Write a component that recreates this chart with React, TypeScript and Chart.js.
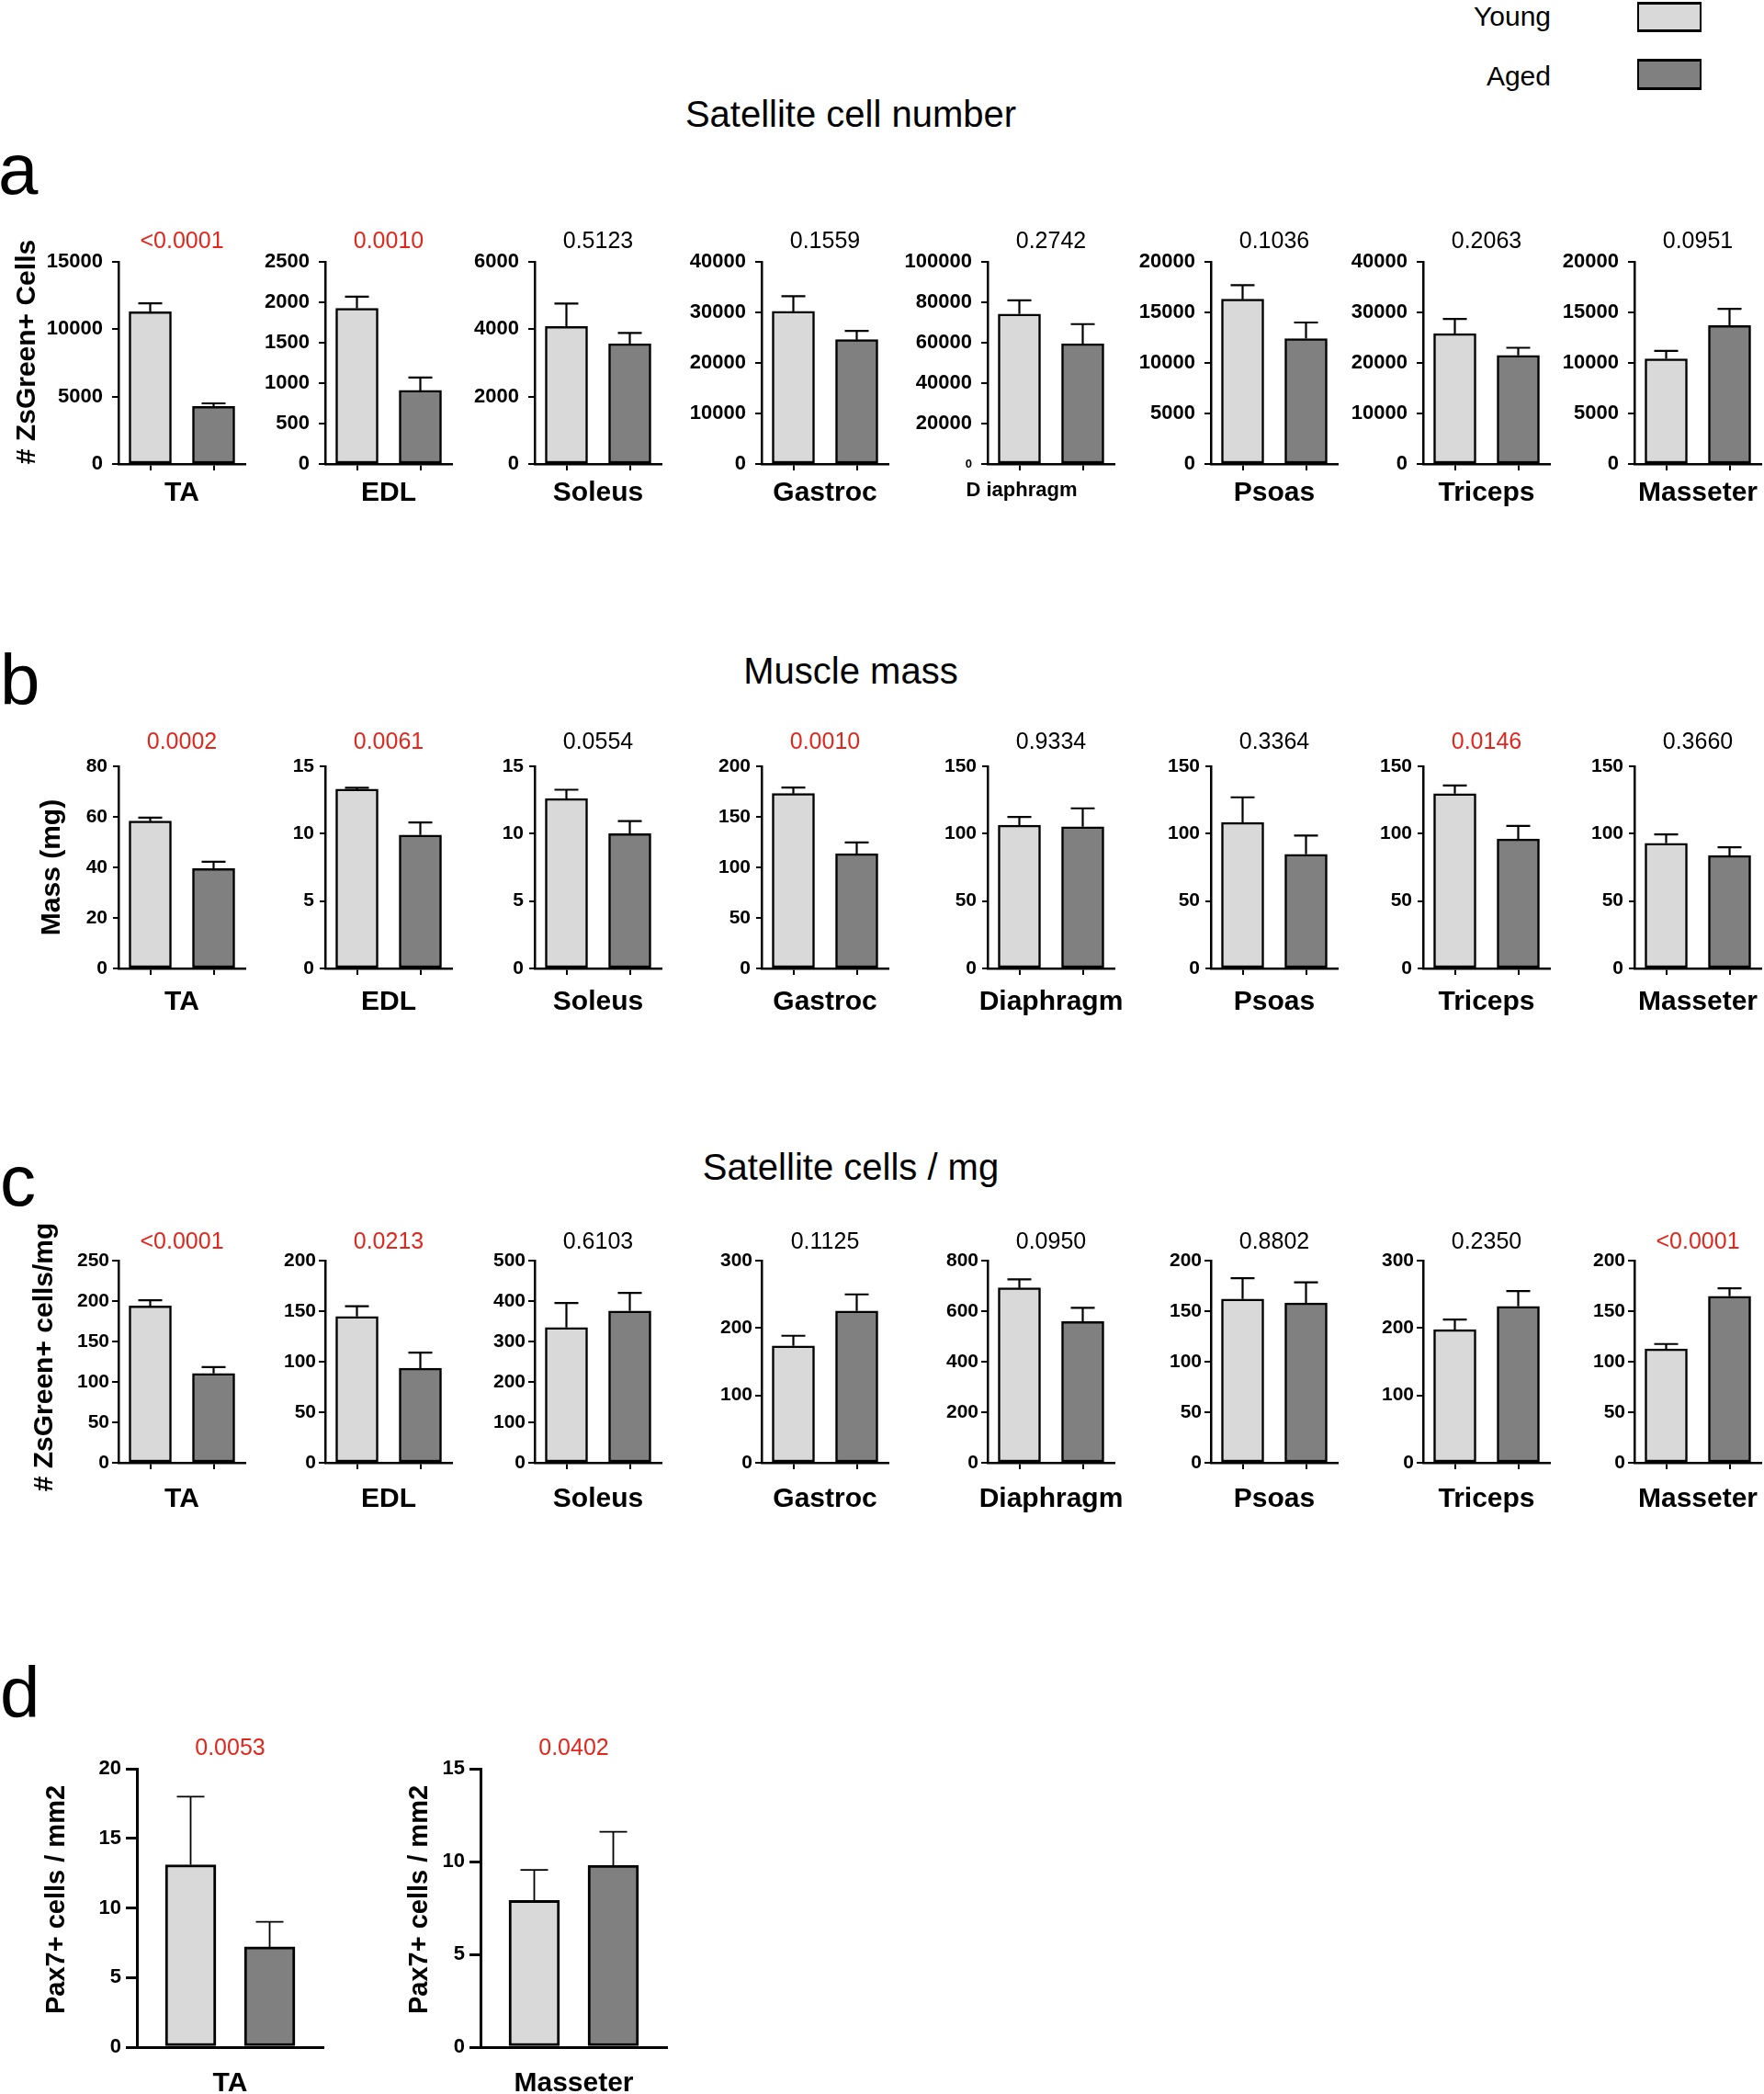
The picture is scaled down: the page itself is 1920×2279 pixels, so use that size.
import React, { useEffect, useRef } from 'react';
import { Chart, registerables } from 'chart.js';

Chart.register(...registerables);

// ---------------- DATA ----------------
const muscles = ['TA', 'EDL', 'Soleus', 'Gastroc', 'Diaphragm', 'Psoas', 'Triceps', 'Masseter'];
const muscleLabelsA = ['TA', 'EDL', 'Soleus', 'Gastroc', 'D iaphragm', 'Psoas', 'Triceps', 'Masseter'];
const groupLabels = ['Young', 'Aged'];

// a. Satellite cell number (# ZsGreen+ cells)
const cellYoung = [11300, 1925, 4080, 30200, 74200, 16300, 25800, 10400];
const cellYoungSem = [620, 145, 680, 3000, 6800, 1400, 2900, 800];
const cellAged = [4270, 910, 3570, 24600, 59500, 12400, 21500, 13700];
const cellAgedSem = [230, 160, 320, 1750, 9700, 1600, 1500, 1650];
const cellAxisMax = [15000, 2500, 6000, 40000, 100000, 20000, 40000, 20000];
const cellAxisStep = [5000, 500, 2000, 10000, 20000, 5000, 10000, 5000];
const cellP = ['<0.0001', '0.0010', '0.5123', '0.1559', '0.2742', '0.1036', '0.2063', '0.0951'];

// b. Muscle mass (mg)
const massYoung = [58.3, 13.3, 12.6, 173, 106.3, 108.3, 129.7, 92.9];
const massYoungSem = [1.4, 0.11, 0.66, 6, 6.1, 18.7, 6.1, 6.6];
const massAged = [39.5, 9.9, 10.0, 113.5, 105.2, 84.7, 96, 83.8];
const massAgedSem = [2.7, 0.93, 0.93, 11.2, 13.6, 13.9, 9.8, 6.1];
const massAxisMax = [80, 15, 15, 200, 150, 150, 150, 150];
const massAxisStep = [20, 5, 5, 50, 50, 50, 50, 50];
const massP = ['0.0002', '0.0061', '0.0554', '0.0010', '0.9334', '0.3364', '0.0146', '0.3660'];

// c. Satellite cells / mg
const perMgYoung = [193.9, 144.8, 334.6, 173.4, 692, 162, 197.6, 112.6];
const perMgYoungSem = [7.1, 10, 60.7, 15.1, 34, 20.7, 15, 4.9];
const perMgAged = [110.4, 93.5, 375.6, 225.3, 558.4, 158.1, 232.2, 164.8];
const perMgAgedSem = [8, 15.5, 44.7, 24.6, 54.6, 20.4, 22.7, 7.9];
const perMgAxisMax = [250, 200, 500, 300, 800, 200, 300, 200];
const perMgAxisStep = [50, 50, 100, 100, 200, 50, 100, 50];
const perMgP = ['<0.0001', '0.0213', '0.6103', '0.1125', '0.0950', '0.8802', '0.2350', '<0.0001'];

// d. Pax7+ cells / mm2
const pax7Muscles = ['TA', 'Masseter'];
const pax7Young = [13.1, 7.9];
const pax7YoungSem = [4.9, 1.65];
const pax7Aged = [7.2, 9.8];
const pax7AgedSem = [1.8, 1.8];
const pax7AxisMax = [20, 15];
const pax7AxisStep = [5, 5];
const pax7P = ['0.0053', '0.0402'];

// ---------------- STYLE / LAYOUT ----------------
const FAM = "'Liberation Sans', Arial, Helvetica, sans-serif";
const YOUNG_COLOR = '#d9d9d9';
const AGED_COLOR = '#808080';
const RED = '#e3261b';

const AXIS_X = [129, 354, 582, 829, 1075, 1318, 1549, 1779];
const PLOT_W = 138;
const PLOT_H = 220;
const D_AXIS_X = [149, 523];
const D_TOP = 1925;
const D_PLOT_W = 203;
const D_PLOT_H = 303;

const isSignificant = (p: string) => p.startsWith('<') || parseFloat(p) < 0.05;

// ---------------- PLUGINS ----------------
const errorBarPlugin = {
  id: 'errorBars',
  afterDatasetsDraw(chart: any, _args: any, opts: any) {
    const errs = opts.errors;
    if (!errs) return;
    const meta = chart.getDatasetMeta(0);
    const yScale = chart.scales.y;
    const ctx = chart.ctx;
    ctx.save();
    ctx.strokeStyle = '#000';
    ctx.lineWidth = opts.lineWidth;
    ctx.lineCap = 'butt';
    meta.data.forEach((bar: any, i: number) => {
      const raw = chart.data.datasets[0].data[i];
      const v = typeof raw === 'number' ? raw : raw.y;
      const top = yScale.getPixelForValue(v + errs[i]);
      ctx.beginPath();
      ctx.moveTo(bar.x, bar.y);
      ctx.lineTo(bar.x, top);
      ctx.moveTo(bar.x - opts.capWidth / 2, top);
      ctx.lineTo(bar.x + opts.capWidth / 2, top);
      ctx.stroke();
    });
    ctx.restore();
  },
};

const subTextPlugin = {
  id: 'subText',
  afterDraw(chart: any, _args: any, o: any) {
    const { ctx, chartArea: ca } = chart;
    const cx = (ca.left + ca.right) / 2;
    ctx.save();
    ctx.textAlign = 'center';
    ctx.textBaseline = 'middle';
    if (o.pText) {
      ctx.font = `${o.pSize}px ${FAM}`;
      ctx.fillStyle = o.pColor;
      ctx.fillText(o.pText, cx, ca.top - o.pOff);
    }
    if (o.xText) {
      ctx.font = `bold ${o.xSize}px ${FAM}`;
      ctx.fillStyle = '#000';
      ctx.fillText(o.xText, cx + (o.xShift || 0), ca.bottom + o.xOff);
    }
    if (o.yText) {
      ctx.translate(ca.left - o.yOff, (ca.top + ca.bottom) / 2 + o.yShift);
      ctx.rotate(-Math.PI / 2);
      ctx.font = `bold ${o.ySize}px ${FAM}`;
      ctx.fillStyle = '#000';
      ctx.fillText(o.yText, 0, 0);
    }
    ctx.restore();
  },
};

// ---------------- CONFIG BUILDERS ----------------
type Spec = { left: number; top: number; width: number; height: number; config: any };

const barPanels = [
  {
    key: 'a', top: 285, labels: muscleLabelsA,
    young: cellYoung, youngSem: cellYoungSem, aged: cellAged, agedSem: cellAgedSem,
    max: cellAxisMax, step: cellAxisStep, p: cellP,
    yTitle: '# ZsGreen+ Cells', yTitleX: 30, yShift: -12, pOff: 22, xOff: 32,
    tickSize: 22, tickPad: 10, tickLen: 7,
  },
  {
    key: 'b', top: 834, labels: muscles,
    young: massYoung, youngSem: massYoungSem, aged: massAged, agedSem: massAgedSem,
    max: massAxisMax, step: massAxisStep, p: massP,
    yTitle: 'Mass (mg)', yTitleX: 57, yShift: 0, pOff: 26, xOff: 37,
    tickSize: 21, tickPad: 6, tickLen: 6,
  },
  {
    key: 'c', top: 1372, labels: muscles,
    young: perMgYoung, youngSem: perMgYoungSem, aged: perMgAged, agedSem: perMgAgedSem,
    max: perMgAxisMax, step: perMgAxisStep, p: perMgP,
    yTitle: '# ZsGreen+ cells/mg', yTitleX: 49, yShift: -5, pOff: 20, xOff: 40,
    tickSize: 21, tickPad: 3, tickLen: 7,
  },
];

function buildBarSpecs(): Spec[] {
  const specs: Spec[] = [];
  const T = 50, B = 62, R = 35;
  barPanels.forEach((pn) => {
    pn.labels.forEach((label, i) => {
      const L = i === 0 ? 125 : 100;
      const width = L + PLOT_W + R;
      const height = T + PLOT_H + B;
      const special = pn.key === 'a' && i === 4;
      const tickFont = special
        ? (c: any) => (c.tick && c.tick.value === 0
            ? { family: FAM, size: 13, weight: 'bold' }
            : { family: FAM, size: pn.tickSize, weight: 'bold' })
        : { family: FAM, size: pn.tickSize, weight: 'bold' };
      const config = {
        type: 'bar',
        data: {
          labels: groupLabels,
          datasets: [{
            data: [pn.young[i], pn.aged[i]],
            backgroundColor: [YOUNG_COLOR, AGED_COLOR],
            borderColor: '#000',
            borderWidth: 2.5,
            borderSkipped: false,
            barThickness: 46,
          }],
        },
        options: {
          animation: false,
          responsive: false,
          devicePixelRatio: 1,
          layout: { padding: { left: 0, right: R, top: T, bottom: 0 } },
          plugins: {
            legend: { display: false },
            tooltip: { enabled: false },
            title: { display: false },
            errorBars: { errors: [pn.youngSem[i], pn.agedSem[i]], lineWidth: 2.2, capWidth: 26 },
            subText: {
              pText: pn.p[i], pSize: 25, pColor: isSignificant(pn.p[i]) ? RED : '#000', pOff: pn.pOff,
              xText: label, xSize: special ? 22 : 30, xOff: special ? 29 : pn.xOff, xShift: special ? -32 : 0,
              yText: i === 0 ? pn.yTitle : '', ySize: 30, yOff: AXIS_X[0] - pn.yTitleX, yShift: pn.yShift,
            },
          },
          scales: {
            x: {
              type: 'category',
              offset: true,
              grid: { display: true, drawOnChartArea: false, drawTicks: true, tickLength: 7, offset: false, color: '#000', lineWidth: 2 },
              border: { display: true, color: '#000', width: 2.5 },
              ticks: { display: false },
              afterFit: (s: any) => { s.height = B; },
            },
            y: {
              min: 0,
              max: pn.max[i],
              ticks: {
                stepSize: pn.step[i], color: '#000', font: tickFont, padding: pn.tickPad,
                autoSkip: false, callback: (v: any) => String(v),
              },
              grid: { drawOnChartArea: false, drawTicks: true, tickLength: pn.tickLen, color: '#000', lineWidth: 2 },
              border: { display: true, color: '#000', width: 2.5 },
              afterFit: (s: any) => { s.width = L; },
            },
          },
        },
        plugins: [errorBarPlugin, subTextPlugin],
      };
      specs.push({ left: AXIS_X[i] - L, top: pn.top - T, width, height, config });
    });
  });
  return specs;
}

function buildPax7Specs(): Spec[] {
  const T = 50, B = 62, R = 35;
  const yTitleX = [62, 457];
  const Ls = [129, 110];
  return pax7Muscles.map((m, i) => {
    const L = Ls[i];
    const config = {
      type: 'bar',
      data: {
        datasets: [{
          data: [{ x: 1, y: pax7Young[i] }, { x: 2, y: pax7Aged[i] }],
          backgroundColor: [YOUNG_COLOR, AGED_COLOR],
          borderColor: '#000',
          borderWidth: 3,
          borderSkipped: false,
          barThickness: 55,
        }],
      },
      options: {
        animation: false,
        responsive: false,
        devicePixelRatio: 1,
        layout: { padding: { left: 0, right: R, top: T, bottom: 0 } },
        plugins: {
          legend: { display: false },
          tooltip: { enabled: false },
          title: { display: false },
          errorBars: { errors: [pax7YoungSem[i], pax7AgedSem[i]], lineWidth: 1.8, capWidth: 30 },
          subText: {
            pText: pax7P[i], pSize: 25, pColor: isSignificant(pax7P[i]) ? RED : '#000', pOff: 22,
            xText: m, xSize: 30, xOff: 40,
            yText: 'Pax7+ cells / mm2', ySize: 29, yOff: D_AXIS_X[i] - yTitleX[i], yShift: -9,
          },
        },
        scales: {
          x: {
            type: 'linear',
            offset: false,
            min: 0.32,
            max: 2.68,
            grid: { display: true, drawOnChartArea: false, drawTicks: false },
            border: { display: true, color: '#000', width: 3 },
            ticks: { display: false },
            afterFit: (s: any) => { s.height = B; },
          },
          y: {
            min: 0,
            max: pax7AxisMax[i],
            ticks: {
              stepSize: pax7AxisStep[i], color: '#000', font: { family: FAM, size: 22, weight: 'bold' },
              padding: 5, autoSkip: false, callback: (v: any) => String(v),
            },
            grid: { drawOnChartArea: false, drawTicks: true, tickLength: 12, color: '#000', lineWidth: 3 },
            border: { display: true, color: '#000', width: 3 },
            afterFit: (s: any) => { s.width = L; },
          },
        },
      },
      plugins: [errorBarPlugin, subTextPlugin],
    };
    return { left: D_AXIS_X[i] - L, top: D_TOP - T, width: L + D_PLOT_W + R, height: T + D_PLOT_H + B, config };
  });
}

// ---------------- COMPONENTS ----------------
function ChartCanvas({ spec }: { spec: Spec }) {
  const ref = useRef<HTMLCanvasElement>(null);
  useEffect(() => {
    const chart = new Chart(ref.current as HTMLCanvasElement, spec.config);
    return () => chart.destroy();
  }, [spec]);
  return (
    <canvas
      ref={ref}
      width={spec.width}
      height={spec.height}
      style={{ position: 'absolute', left: spec.left, top: spec.top, width: spec.width, height: spec.height }}
    />
  );
}

function Txt({ x, baseline, size, align = 'center', bold = false, children }: any) {
  const top = baseline - 0.8465 * size;
  let left = x;
  let width = 1000;
  if (align === 'center') left = x - 500;
  if (align === 'right') left = x - 1000;
  return (
    <div
      style={{
        position: 'absolute', left, top, width, fontFamily: FAM, fontSize: size,
        lineHeight: `${size}px`, textAlign: align, whiteSpace: 'pre', color: '#000',
        fontWeight: bold ? 'bold' : 'normal',
      }}
    >
      {children}
    </div>
  );
}

const barSpecs = buildBarSpecs();
const pax7Specs = buildPax7Specs();

export default function App() {
  return (
    <div style={{ position: 'absolute', left: 0, top: 0, width: 1920, height: 2279, overflow: 'hidden', background: '#fff' }}>
      {/* legend */}
      <Txt x={1688} baseline={28} size={30} align="right">{groupLabels[0]}</Txt>
      <Txt x={1688} baseline={93} size={30} align="right">{groupLabels[1]}</Txt>
      <div style={{ position: 'absolute', left: 1782, top: 2, width: 70, height: 33, boxSizing: 'border-box', background: YOUNG_COLOR, borderStyle: 'solid', borderColor: '#000', borderWidth: '3px 2px 3px 2px' }} />
      <div style={{ position: 'absolute', left: 1782, top: 64, width: 70, height: 34, boxSizing: 'border-box', background: AGED_COLOR, borderStyle: 'solid', borderColor: '#000', borderWidth: '3px 2px 3px 2px' }} />

      {/* section titles */}
      <Txt x={926} baseline={138} size={40}>Satellite cell number</Txt>
      <Txt x={926} baseline={744} size={40}>Muscle mass</Txt>
      <Txt x={926} baseline={1284} size={40}>Satellite cells / mg</Txt>

      {/* panel letters */}
      <Txt x={-2} baseline={211} size={78} align="left">a</Txt>
      <Txt x={0} baseline={767} size={78} align="left">b</Txt>
      <Txt x={0} baseline={1312} size={78} align="left">c</Txt>
      <Txt x={0} baseline={1869} size={78} align="left">d</Txt>

      {barSpecs.map((s, i) => <ChartCanvas key={`b${i}`} spec={s} />)}
      {pax7Specs.map((s, i) => <ChartCanvas key={`d${i}`} spec={s} />)}
    </div>
  );
}
